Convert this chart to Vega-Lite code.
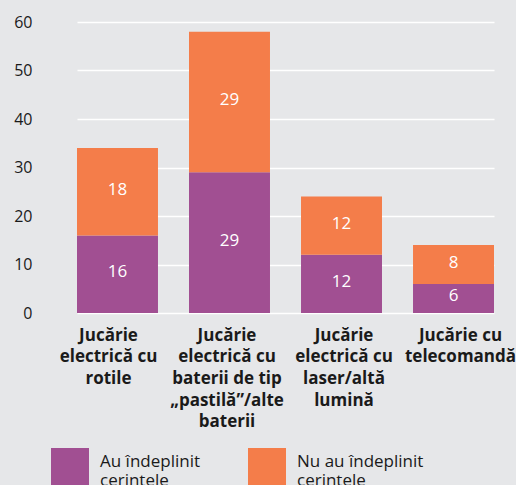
{
  "$schema": "https://vega.github.io/schema/vega-lite/v6.json",
  "width": 450,
  "height": 291,
  "autosize": {"type": "none"},
  "padding": {"left": 40, "top": 22, "right": 26, "bottom": 172},
  "background": "#e6e7e9",
  "config": {
    "view": {"stroke": null},
    "font": "Open Sans",
    "axis": {"labelFont": "Open Sans", "labelColor": "#1a1a1a"},
    "legend": {"labelFont": "Open Sans", "labelColor": "#1a1a1a"}
  },
  "data": {
    "values": [
      {"category": "Jucărie electrică cu rotile", "group": "Au îndeplinit cerințele", "value": 16},
      {"category": "Jucărie electrică cu rotile", "group": "Nu au îndeplinit cerințele", "value": 18},
      {"category": "Jucărie electrică cu baterii de tip „pastilă”/alte baterii", "group": "Au îndeplinit cerințele", "value": 29},
      {"category": "Jucărie electrică cu baterii de tip „pastilă”/alte baterii", "group": "Nu au îndeplinit cerințele", "value": 29},
      {"category": "Jucărie electrică cu laser/altă lumină", "group": "Au îndeplinit cerințele", "value": 12},
      {"category": "Jucărie electrică cu laser/altă lumină", "group": "Nu au îndeplinit cerințele", "value": 12},
      {"category": "Jucărie cu telecomandă", "group": "Au îndeplinit cerințele", "value": 6},
      {"category": "Jucărie cu telecomandă", "group": "Nu au îndeplinit cerințele", "value": 8}
    ]
  },
  "transform": [
    {"calculate": "datum.group == 'Au îndeplinit cerințele' ? 0 : 1", "as": "order"},
    {"stack": "value", "groupby": ["category"], "sort": [{"field": "order", "order": "ascending"}], "as": ["v0", "v1"]},
    {"calculate": "(datum.v0 + datum.v1) / 2", "as": "vmid"}
  ],
  "encoding": {
    "x": {
      "field": "category",
      "type": "nominal",
      "sort": null,
      "scale": {"range": [37, 454], "paddingInner": 0.277, "paddingOuter": 0},
      "axis": {
        "title": null,
        "labelAngle": 0,
        "domain": false,
        "ticks": false,
        "labelFontSize": 17,
        "labelFontWeight": "bold",
        "labelLineHeight": 21.7,
        "labelPadding": 14,
        "labelLimit": 0,
        "labelBaseline": "top",
        "labelOffset": {"expr": "datum.value == 'Jucărie electrică cu rotile' ? -9 : datum.value == 'Jucărie cu telecomandă' ? 7 : datum.value == 'Jucărie electrică cu laser/altă lumină' ? 2.5 : -2.5"},
        "labelExpr": "datum.label == 'Jucărie electrică cu rotile' ? ['Jucărie', 'electrică cu', 'rotile'] : datum.label == 'Jucărie electrică cu laser/altă lumină' ? ['Jucărie', 'electrică cu', 'laser/altă', 'lumină'] : datum.label == 'Jucărie cu telecomandă' ? ['Jucărie cu', 'telecomandă'] : ['Jucărie', 'electrică cu', 'baterii de tip', '„pastilă”/alte', 'baterii']"
      }
    }
  },
  "layer": [
    {
      "mark": {"type": "bar"},
      "encoding": {
        "y": {
          "field": "v0",
          "type": "quantitative",
          "scale": {"domain": [0, 60]},
          "axis": {
            "title": null,
            "values": [0, 10, 20, 30, 40, 50, 60],
            "domain": false,
            "ticks": false,
            "grid": true,
            "gridColor": "#ffffff",
            "gridWidth": 1.6,
            "labelFontSize": 16,
            "labelPadding": 8
          }
        },
        "y2": {"field": "v1"},
        "color": {
          "field": "group",
          "type": "nominal",
          "scale": {"domain": ["Au îndeplinit cerințele", "Nu au îndeplinit cerințele"], "range": ["#a14f92", "#f47d4a"]},
          "legend": {
            "title": null,
            "orient": "none",
            "legendX": 11,
            "legendY": 426,
            "direction": "horizontal",
            "columns": 2,
            "columnPadding": 47,
            "symbolType": "square",
            "symbolSize": 1444,
            "symbolStrokeWidth": 0,
            "symbolOpacity": 1,
            "labelFontSize": 17,
            "labelLineHeight": 20,
            "labelOffset": 11,
            "labelLimit": 0,
            "labelBaseline": "alphabetic",
            "labelExpr": "datum.label == 'Au îndeplinit cerințele' ? ['Au îndeplinit', 'cerințele'] : ['Nu au îndeplinit', 'cerințele']"
          }
        }
      }
    },
    {
      "mark": {"type": "text", "color": "#ffffff", "fontSize": 17, "baseline": "middle", "dy": -2},
      "encoding": {
        "y": {"field": "vmid", "type": "quantitative"},
        "text": {"field": "value", "type": "quantitative"}
      }
    }
  ]
}
